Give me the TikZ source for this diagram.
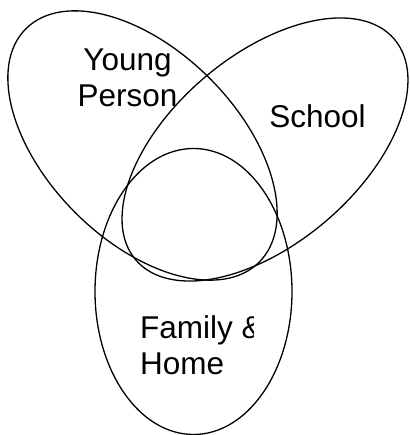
\documentclass[tikz,border=0pt]{standalone}
\usepackage{fontspec}
\setmainfont{Liberation Sans}
\usetikzlibrary{positioning}
\tikzset{
  venntext/.style={font=\fontsize{31.5}{36.5}\selectfont, inner sep=0pt},
  vennline/.style={line width=1.3pt}
}
\begin{document}
\begin{tikzpicture}[x=1pt,y=1pt]
  \useasboundingbox (0,0) rectangle (409,435);

  % centres of the three sets
  \coordinate (CY) at (142.5,289.5);
  \coordinate (CS) at (265,285.5);
  \coordinate (CF) at (193.5,143.5);

  % young person, leaning down to the right
  \draw[vennline, rotate around={-45:(CY)}] (CY) ellipse (165pt and 95pt);
  % school, leaning up to the right
  \draw[vennline, rotate around={40.5:(CS)}] (CS) ellipse (170pt and 94pt);
  % family and home, upright
  \draw[vennline] (CF) ellipse (98.5pt and 143pt);

  % labels
  \node[venntext, align=center, anchor=base] (young) at (127.5,328.3) {Young\\Person};
  \node[venntext, anchor=base] (school) at (317.5,307.3) {School};
  \begin{scope}
    \clip (0,0) rectangle (253,435);
    \node[venntext, align=left, anchor=base west] (family) at (140,60) {Family \&\\Home};
  \end{scope}
\end{tikzpicture}
\end{document}
